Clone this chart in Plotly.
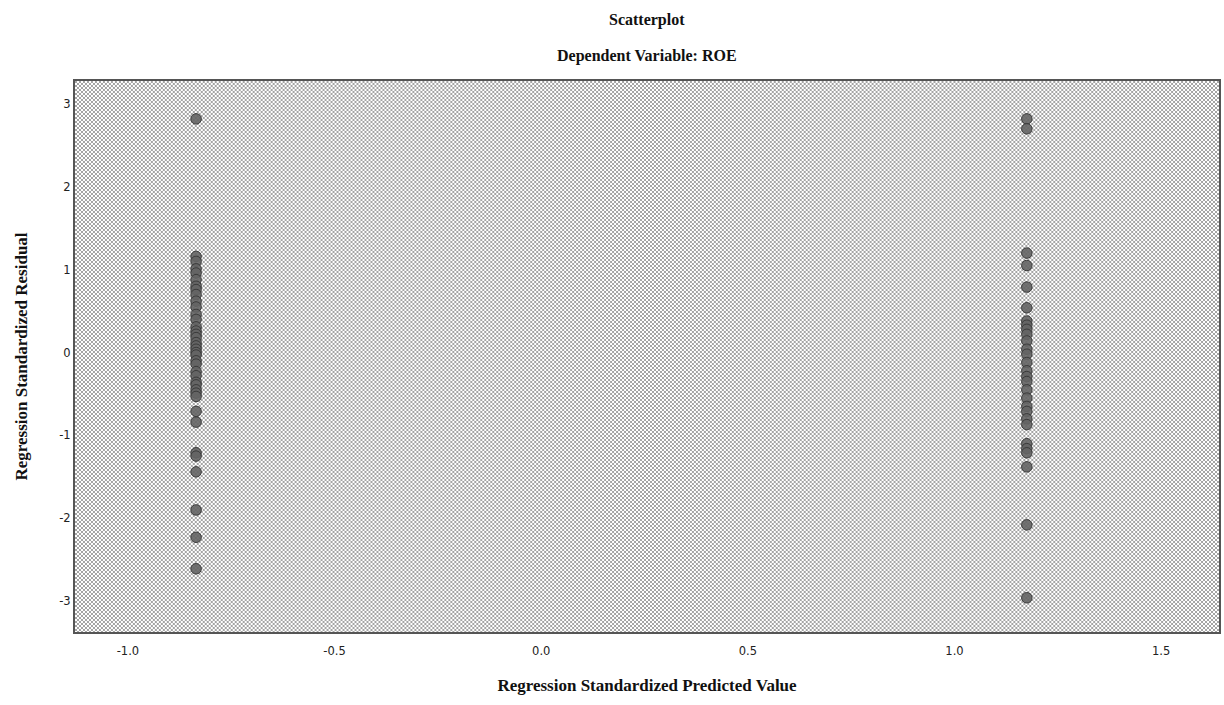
import base64
import plotly.graph_objects as go

# Standardized predicted values for the two groups and their residuals
pred_low = -0.835
pred_high = 1.175

resid_low = [2.82, 1.16, 1.10, 1.01, 0.96, 0.88, 0.80, 0.76, 0.70, 0.62, 0.55,
             0.46, 0.40, 0.31, 0.26, 0.22, 0.18, 0.12, 0.08, 0.04, 0.00, -0.03,
             -0.10, -0.14, -0.23, -0.28, -0.36, -0.39, -0.45, -0.49, -0.53,
             -0.71, -0.84, -1.21, -1.25, -1.44, -1.90, -2.23, -2.61]
resid_high = [2.82, 2.70, 1.20, 1.05, 0.79, 0.54, 0.38, 0.33, 0.28, 0.22, 0.14,
              0.04, -0.02, -0.12, -0.22, -0.29, -0.35, -0.45, -0.55, -0.65,
              -0.71, -0.80, -0.87, -1.10, -1.16, -1.21, -1.38, -2.08, -2.96]

x_ticks = [-1.0, -0.5, 0.0, 0.5, 1.0, 1.5]
x_labels = ["-1.0", "-0.5", "0.0", "0.5", "1.0", "1.5"]
y_ticks = [-3, -2, -1, 0, 1, 2, 3]
y_labels = ["-3", "-2", "-1", "0", "1", "2", "3"]

W, H = 1224, 705
M_L, M_R, M_T, M_B = 75, 3, 81, 73
PW, PH = W - M_L - M_R, H - M_T - M_B

# Checkered fill for the plot area, as a tiled SVG pattern
svg = (
    f'<svg xmlns="http://www.w3.org/2000/svg" width="{PW}" height="{PH}">'
    '<defs><pattern id="p" width="4" height="4" patternUnits="userSpaceOnUse">'
    '<rect width="4" height="4" fill="#ffffff"/>'
    '<rect x="0" y="0" width="2" height="2" fill="#a4a4a4"/>'
    '<rect x="2" y="2" width="2" height="2" fill="#a4a4a4"/>'
    '</pattern></defs>'
    f'<rect width="{PW}" height="{PH}" fill="url(#p)"/></svg>'
)
bg_uri = "data:image/svg+xml;base64," + base64.b64encode(svg.encode()).decode()

xs = [pred_low] * len(resid_low) + [pred_high] * len(resid_high)
ys = resid_low + resid_high

fig = go.Figure()
fig.add_trace(go.Scatter(
    x=xs, y=ys, mode="markers",
    marker=dict(size=10.5, color="rgba(100,100,100,0.9)",
                line=dict(color="#3a3a3a", width=1)),
    hoverinfo="x+y", showlegend=False,
))

serif = "Liberation Serif"
sans = "DejaVu Sans"

fig.update_layout(
    width=W, height=H,
    margin=dict(l=M_L, r=M_R, t=M_T, b=M_B),
    paper_bgcolor="white",
    plot_bgcolor="white",
    images=[dict(source=bg_uri, xref="paper", yref="paper", x=0, y=1,
                 sizex=1, sizey=1, xanchor="left", yanchor="top",
                 sizing="stretch", layer="below")],
    xaxis=dict(range=[-1.128, 1.640], tickvals=x_ticks, ticktext=x_labels,
               showgrid=False, zeroline=False, showline=True, mirror=True,
               linecolor="#555555", linewidth=2, ticks="",
               ticklabelstandoff=7,
               tickfont=dict(family=sans, size=11.5, color="#222222"),
               title=dict(text="<b>Regression Standardized Predicted Value</b>",
                          font=dict(family=serif, size=17, color="#111111"),
                          standoff=22)),
    yaxis=dict(range=[-3.373, 3.277], tickvals=y_ticks, ticktext=y_labels,
               showgrid=False, zeroline=False, showline=True, mirror=True,
               linecolor="#555555", linewidth=2, ticks="",
               tickfont=dict(family=sans, size=11.5, color="#222222"),
               title=dict(text="<b>Regression Standardized Residual</b>",
                          font=dict(family=serif, size=17, color="#111111"),
                          standoff=27)),
    annotations=[
        dict(text="<b>Scatterplot</b>", xref="paper", yref="paper",
             x=0.5, y=1, yshift=72, showarrow=False,
             font=dict(family=serif, size=16, color="#111111")),
        dict(text="<b>Dependent Variable: ROE</b>", xref="paper", yref="paper",
             x=0.5, y=1, yshift=36, showarrow=False,
             font=dict(family=serif, size=16, color="#111111")),
    ],
)

fig.write_html("out.html")
